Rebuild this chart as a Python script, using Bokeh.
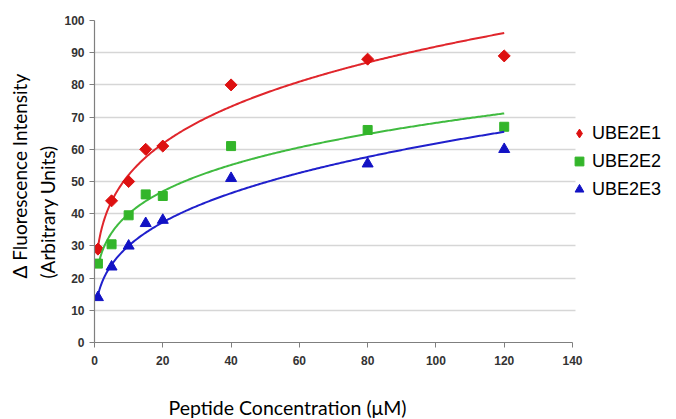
import numpy as np
from bokeh.plotting import figure
from bokeh.models import Legend, LegendItem, FixedTicker, Title
from bokeh.embed import file_html
from bokeh.resources import INLINE

# ---- data ----
conc = [1, 5, 10, 15, 20, 40, 80, 120]
ube2e1 = [29, 44, 50, 60, 61, 80, 88, 89]
ube2e2 = [24.5, 30.5, 39.5, 46, 45.5, 61, 66, 67]
ube2e3 = [14, 23.5, 30, 37, 38, 51, 55.5, 60]
series_names = ["UBE2E1", "UBE2E2", "UBE2E3"]
x_ticks = [0, 20, 40, 60, 80, 100, 120, 140]
y_ticks = [0, 10, 20, 30, 40, 50, 60, 70, 80, 90, 100]
x_title = "Peptide Concentration (\u03bcM)"
y_title_1 = "\u0394 Fluorescence Intensity"
y_title_2 = "(Arbitrary Units)"

# ---- styles ----
marker_colors = ["#dd1111", "#33b52a", "#1212c4"]
line_colors = ["#e0262c", "#40bb40", "#2020cc"]
markers = ["square", "square", "triangle"]
legend_markers = ["diamond", "square", "triangle"]
marker_angles = [np.pi / 4, 0, 0]
marker_sizes = [8.5, 9, 11]

# the frame extends to the right edge so the legend can sit inside it;
# the axis itself stops at 140
x_axis_end = 140
x_view_end = x_axis_end * (676 - 94) / (572 - 94)

p = figure(width=676, height=419, x_range=(0, x_view_end), y_range=(0, 100),
           output_backend="svg", toolbar_location=None,
           min_border_left=94, min_border_right=0,
           min_border_top=20, min_border_bottom=77)
p.outline_line_color = None
p.background_fill_color = "white"

p.xgrid.visible = False
p.ygrid.grid_line_color = "#d6d6d6"
p.ygrid.grid_line_width = 1.5
p.ygrid.cross_bounds = (0, 141)

for ax in (p.xaxis, p.yaxis):
    ax.axis_line_color = "#7f7f7f"
    ax.axis_line_width = 1.2
    ax.major_tick_line_color = "#7f7f7f"
    ax.major_tick_out = 5
    ax.major_tick_in = 0
    ax.minor_tick_out = 0
    ax.minor_tick_in = 0
    ax.major_label_text_font = "Liberation Sans"
    ax.major_label_text_font_style = "bold"
    ax.major_label_text_font_size = "12px"
    ax.major_label_text_color = "#333333"
p.xaxis.ticker = FixedTicker(ticks=x_ticks)
p.yaxis.ticker = FixedTicker(ticks=y_ticks)
p.xaxis.bounds = (0, x_axis_end)
p.xaxis.major_label_standoff = 8
p.yaxis.major_label_standoff = 5
# blank spacer label: pushes the x title (below) further down
p.xaxis.axis_label = " "
p.xaxis.axis_label_text_font_size = "10px"
p.xaxis.axis_label_standoff = 12

items = []
all_y = [ube2e1, ube2e2, ube2e3]
xs = np.array(conc, dtype=float)
xfit = np.linspace(xs.min(), xs.max(), 300)
for i, ys in enumerate(all_y):
    ys = np.array(ys, dtype=float)
    # power-law trendline fitted to the data (as a spreadsheet would do)
    b, lna = np.polyfit(np.log(xs), np.log(ys), 1)
    yfit = np.exp(lna) * xfit ** b
    p.line(xfit, yfit, line_color=line_colors[i], line_width=2)
    p.scatter(xs, ys, marker=markers[i], size=marker_sizes[i],
              angle=marker_angles[i],
              fill_color=marker_colors[i], line_color=marker_colors[i])
    # legend key renderer (hidden; only its legend swatch is shown)
    lr = p.scatter(xs, ys, marker=legend_markers[i], size=marker_sizes[i],
                   fill_color=marker_colors[i], line_color=marker_colors[i],
                   visible=False)
    items.append(LegendItem(label=series_names[i], renderers=[lr]))

legend = Legend(items=items, location=(474, 142), padding=0, margin=0,
                border_line_color=None, background_fill_alpha=0,
                label_text_font="Liberation Sans", label_text_font_size="18px",
                label_text_color="#000000", label_standoff=2,
                glyph_width=22, glyph_height=22, label_height=22, spacing=6,
                click_policy="none")
p.add_layout(legend, "center")

p.add_layout(Title(text=x_title, align="left", offset=74, standoff=0,
                   text_font="Lato", text_font_size="19.5px",
                   text_font_style="normal", text_color="#000000"), "below")
p.add_layout(Title(text=y_title_2, align="left", offset=64, standoff=6,
                   text_font="Lato", text_font_size="19px",
                   text_font_style="normal", text_color="#000000"), "left")
p.add_layout(Title(text=y_title_1, align="left", offset=64, standoff=0,
                   text_font="Lato", text_font_size="19px",
                   text_font_style="normal", text_color="#000000"), "left")

open("out.html", "w").write(file_html(p, INLINE))
